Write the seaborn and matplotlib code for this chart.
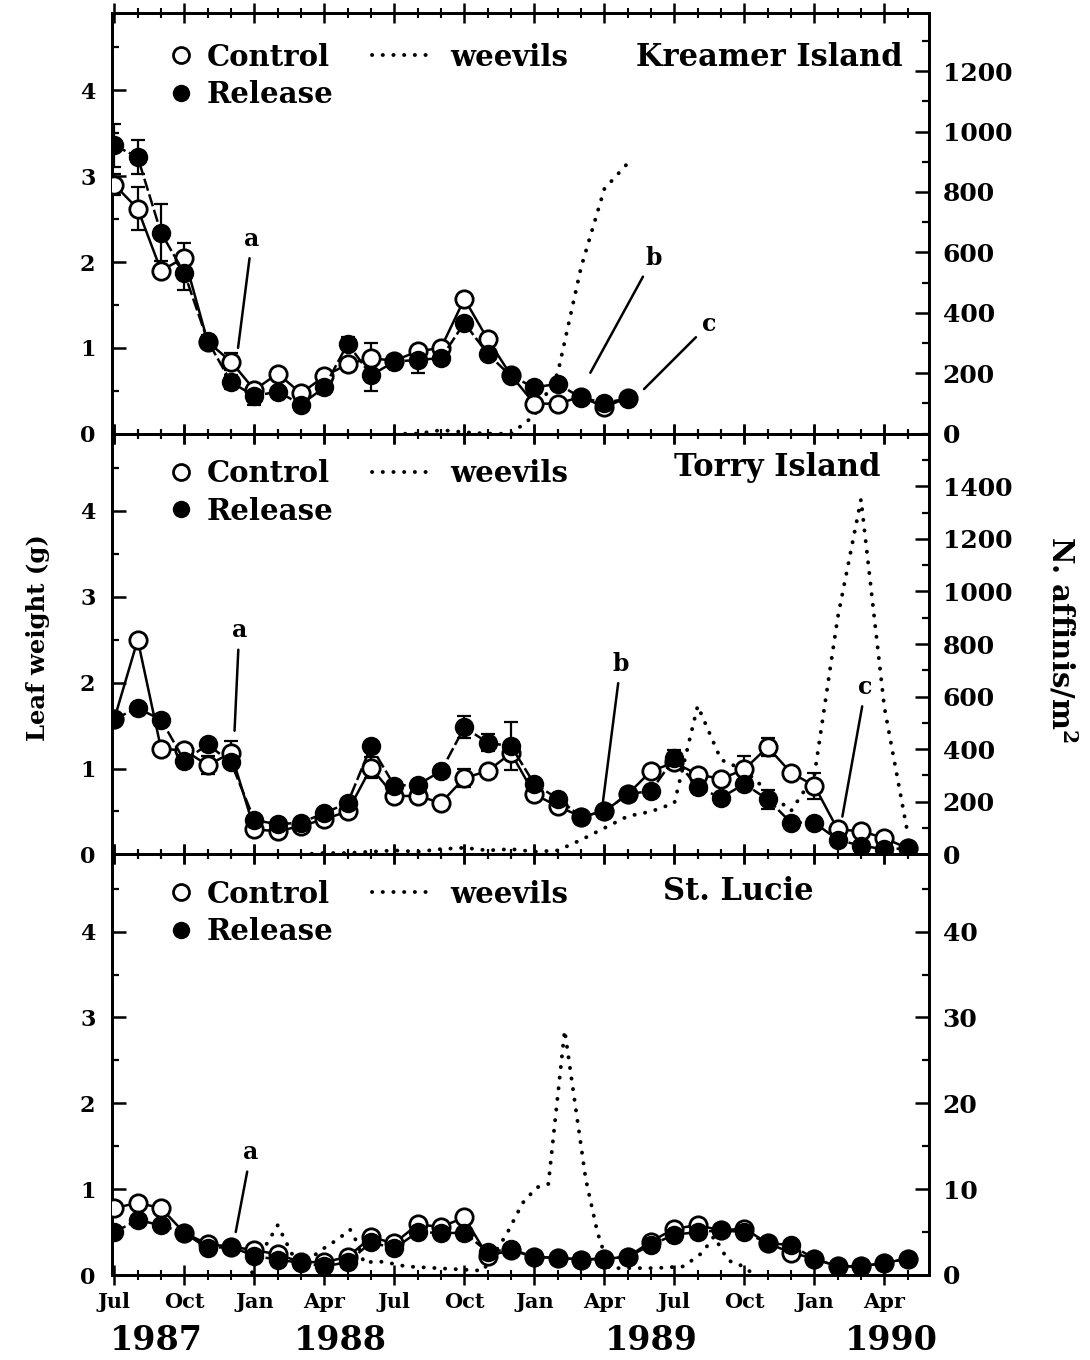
import numpy as np
import matplotlib
matplotlib.use("Agg")
import matplotlib.pyplot as plt
import matplotlib.transforms as mtransforms
from matplotlib.lines import Line2D
from matplotlib.ticker import MultipleLocator
import seaborn as sns

# ---------------- data (months since Jul 1987) ----------------
month_labels = ["Jul", "Oct", "Jan", "Apr"] * 3
year_labels = ["1987", "1988", "1989", "1990"]
year_pos = [1.8, 9.7, 23.0, 33.3]

# Kreamer Island
k_months = list(range(23))
k_ctrl = [2.90, 2.62, 1.90, 2.05, 1.07, 0.84, 0.51, 0.70, 0.47, 0.67, 0.81, 0.88,
          0.85, 0.96, 1.00, 1.57, 1.10, 0.68, 0.35, 0.35, 0.43, 0.31, 0.42]
k_rel = [3.36, 3.22, 2.34, 1.87, 1.08, 0.60, 0.44, 0.49, 0.34, 0.54, 1.05, 0.68,
         0.84, 0.86, 0.88, 1.29, 0.93, 0.67, 0.54, 0.58, 0.42, 0.36, 0.41]
k_ctrl_err = [0.12, 0.25, 0, 0.17, 0, 0.10, 0, 0, 0, 0, 0, 0.18,
              0, 0, 0, 0, 0, 0, 0, 0, 0, 0, 0]
k_rel_err = [0.25, 0.20, 0.33, 0.20, 0.07, 0.08, 0.10, 0, 0, 0.08, 0.08, 0.18,
             0, 0.15, 0, 0, 0, 0, 0, 0, 0, 0, 0]
k_weev_months = [12, 13, 14, 15, 16, 17, 18, 19, 20, 21, 22]
k_weev = [0, 0, 12, 5, 0, 0, 60, 200, 550, 810, 895]

# Torry Island
t_months = list(range(35))
t_ctrl = [1.58, 2.50, 1.23, 1.21, 1.04, 1.18, 0.29, 0.27, 0.33, 0.41, 0.50, 1.01,
          0.68, 0.68, 0.60, 0.89, 0.97, 1.18, 0.70, 0.56, 0.44, 0.50, 0.70, 0.97,
          1.07, 0.93, 0.88, 0.99, 1.25, 0.95, 0.80, 0.29, 0.27, 0.19, 0.07]
t_rel = [1.58, 1.70, 1.57, 1.09, 1.28, 1.07, 0.40, 0.35, 0.37, 0.48, 0.60, 1.26,
         0.80, 0.81, 0.97, 1.48, 1.30, 1.26, 0.82, 0.65, 0.44, 0.50, 0.70, 0.74,
         1.12, 0.78, 0.66, 0.82, 0.64, 0.37, 0.37, 0.17, 0.10, 0.06, 0.07]
t_ctrl_err = [0, 0, 0, 0, 0.10, 0.14, 0, 0, 0, 0, 0, 0.12,
              0, 0, 0, 0.10, 0, 0, 0, 0, 0, 0, 0, 0,
              0, 0, 0, 0.16, 0.11, 0, 0.15, 0, 0, 0, 0]
t_rel_err = [0, 0, 0, 0, 0, 0, 0, 0, 0, 0, 0, 0,
             0, 0, 0, 0.13, 0.10, 0.28, 0, 0, 0, 0, 0, 0,
             0.10, 0, 0, 0, 0.11, 0, 0, 0, 0, 0, 0]
t_weev_months = list(range(8, 35))
t_weev = [0, 5, 5, 10, 15, 10, 20, 25, 15, 20, 10, 15, 55, 100, 145, 163, 195,
          565, 360, 320, 240, 165, 300, 900, 1350, 560, 80]

# St. Lucie
s_months = list(range(35))
s_ctrl = [0.78, 0.84, 0.78, 0.49, 0.36, 0.33, 0.29, 0.24, 0.15, 0.15, 0.21, 0.44,
          0.37, 0.59, 0.56, 0.67, 0.22, 0.29, 0.21, 0.20, 0.18, 0.19, 0.21, 0.39,
          0.54, 0.58, 0.52, 0.54, 0.37, 0.26, 0.19, 0.10, 0.10, 0.14, 0.19]
s_rel = [0.50, 0.64, 0.58, 0.49, 0.31, 0.33, 0.22, 0.18, 0.14, 0.10, 0.15, 0.38,
         0.31, 0.50, 0.49, 0.49, 0.27, 0.30, 0.21, 0.20, 0.18, 0.19, 0.21, 0.35,
         0.47, 0.50, 0.52, 0.50, 0.37, 0.35, 0.19, 0.10, 0.10, 0.14, 0.19]
s_ctrl_err = [0] * 35
s_rel_err = [0] * 35
s_weev_months = [5.9, 6.5, 7.0, 7.6, 8.1, 8.8, 9.6, 10.1, 10.4, 10.7, 11.2, 11.6,
                 12.5, 15.8, 16.8, 17.5, 18.1, 18.6, 19.3, 20.2, 20.7, 21.2, 23.2,
                 24.4, 25.2, 25.7, 26.3, 26.8, 27.3]
s_weev = [0.3, 3.5, 5.8, 2.5, 1.2, 2.8, 4.2, 5.3, 3.8, 1.4, 1.6, 1.5,
          1.0, 0.5, 4.7, 8.4, 10.2, 10.6, 28.5, 11.2, 5.0, 0.8, 0.8,
          1.0, 2.6, 4.5, 1.7, 1.2, 0.3]

# ---------------- style ----------------
sns.set_style("white")
plt.rcParams["font.family"] = ["DejaVu Serif", "DejaVu Sans"]
plt.rcParams["font.weight"] = "bold"
plt.rcParams["mathtext.fontset"] = "dejavuserif"
plt.rcParams["mathtext.default"] = "bf"
plt.rcParams["axes.linewidth"] = 2.0
for key in ["text.color", "axes.labelcolor", "xtick.color", "ytick.color",
            "axes.edgecolor"]:
    plt.rcParams[key] = "black"

BLACK = "black"
LW = 1.8
MS = 12.5
DOTS = (0, (0.05, 2.7))
WLW = 2.8

fig, axes = plt.subplots(3, 1, figsize=(10.9, 13.6), dpi=100, sharex=True)
fig.subplots_adjust(left=0.1028, right=0.852, top=0.9904, bottom=0.0625, hspace=0)

panels = [
    dict(name="Kreamer Island", name_xy=(0.805, 0.895), leg_y=0.930,
         months=k_months, ctrl=k_ctrl, rel=k_rel,
         cerr=k_ctrl_err, rerr=k_rel_err, wm=k_weev_months, wv=k_weev,
         wlim=1392, wmaj=200, wmin=100, wtop=1200,
         ann=[("a", (5.3, 1.0), (5.9, 2.27)), ("b", (20.4, 0.71), (23.1, 2.05)),
              ("c", (22.7, 0.52), (25.5, 1.28))]),
    dict(name="Torry Island", name_xy=(0.814, 0.919), leg_y=0.940,
         months=t_months, ctrl=t_ctrl, rel=t_rel,
         cerr=t_ctrl_err, rerr=t_rel_err, wm=t_weev_months, wv=t_weev,
         wlim=1600, wmaj=200, wmin=100, wtop=1400,
         ann=[("a", (5.15, 1.44), (5.35, 2.61)), ("b", (20.9, 0.53), (21.7, 2.22)),
              ("c", (31.2, 0.44), (32.2, 1.95))]),
    dict(name="St. Lucie", name_xy=(0.767, 0.912), leg_y=0.940,
         months=s_months, ctrl=s_ctrl, rel=s_rel,
         cerr=s_ctrl_err, rerr=s_rel_err, wm=s_weev_months, wv=s_weev,
         wlim=49, wmaj=10, wmin=5, wtop=40,
         ann=[("a", (5.2, 0.5), (5.85, 1.43))]),
]

for i, (ax, p) in enumerate(zip(axes, panels)):
    ax2 = ax.twinx()
    # weevils (right axis)
    sns.lineplot(x=p["wm"], y=p["wv"], ax=ax2, color=BLACK, lw=WLW,
                 linestyle=DOTS, dash_capstyle="round", legend=False, sort=False)
    ax2.set_ylim(0, p["wlim"])
    ax2.yaxis.set_minor_locator(MultipleLocator(p["wmin"]))
    ax2.set_yticks([v for v in np.arange(0, p["wtop"] + 1, p["wmaj"])])
    ax2.tick_params(axis="y", which="major", direction="in", length=10, width=1.8,
                    labelsize=18, pad=10, colors=BLACK)
    ax2.tick_params(axis="y", which="minor", direction="in", length=5, width=1.6,
                    colors=BLACK)
    ax2.set_ylabel("")
    for s in ax2.spines.values():
        s.set_linewidth(2.0)
        s.set_color(BLACK)

    # leaf weight (left axis)
    m = np.array(p["months"], dtype=float)
    c = np.array(p["ctrl"])
    r = np.array(p["rel"])
    ce = np.array(p["cerr"], dtype=float)
    re_ = np.array(p["rerr"], dtype=float)
    mk = ce > 0
    if mk.any():
        ax.errorbar(m[mk], c[mk], yerr=ce[mk], fmt="none", ecolor=BLACK,
                    elinewidth=1.6, capsize=5, capthick=1.6, zorder=2)
    mk = re_ > 0
    if mk.any():
        ax.errorbar(m[mk], r[mk], yerr=re_[mk], fmt="none", ecolor=BLACK,
                    elinewidth=1.6, capsize=5, capthick=1.6, zorder=2)
    sns.lineplot(x=m, y=c, ax=ax, color=BLACK, lw=LW, marker="o", markersize=MS,
                 markerfacecolor="white", markeredgecolor=BLACK, markeredgewidth=2.0,
                 legend=False, sort=False, zorder=3)
    sns.lineplot(x=m, y=r, ax=ax, color=BLACK, lw=LW, linestyle=(0, (5, 1.5)),
                 marker="o", markersize=MS, markerfacecolor=BLACK,
                 markeredgecolor=BLACK, markeredgewidth=1.5,
                 legend=False, sort=False, zorder=4)

    ax.set_ylim(0, 4.9)
    ax.set_xlim(-0.1, 34.9)
    ax.yaxis.set_minor_locator(MultipleLocator(0.5))
    ax.set_yticks([0, 1, 2, 3, 4])
    ax.tick_params(axis="y", which="major", direction="in", length=10, width=1.8,
                   labelsize=16, pad=12, right=False)
    ax.tick_params(axis="y", which="minor", direction="in", length=5, width=1.6,
                   right=False)
    ax.xaxis.set_major_locator(MultipleLocator(3))
    ax.xaxis.set_minor_locator(MultipleLocator(1))
    ax.tick_params(axis="x", which="major", direction="inout", length=14, width=1.8,
                   top=True, bottom=True, labelsize=15, pad=5)
    ax.tick_params(axis="x", which="minor", direction="inout", length=7, width=1.5,
                   top=True, bottom=True)
    ax.set_ylabel("")
    ax.set_xlabel("")

    # put leaf-weight axis above weevil axis
    ax.set_zorder(ax2.get_zorder() + 1)
    ax.patch.set_visible(False)

    # legend
    h_c = Line2D([], [], linestyle="none", marker="o", markersize=MS - 1,
                 markerfacecolor="white", markeredgecolor=BLACK, markeredgewidth=2.0)
    h_r = Line2D([], [], linestyle="none", marker="o", markersize=MS - 1,
                 markerfacecolor=BLACK, markeredgecolor=BLACK)
    h_w = Line2D([], [], color=BLACK, lw=WLW, linestyle=DOTS, dash_capstyle="round")
    leg1 = ax.legend([h_c, h_r], ["Control", "Release"], loc="upper left",
                     bbox_to_anchor=(0.068, p["leg_y"]), frameon=False, fontsize=21,
                     handlelength=0.9, handletextpad=0.45, labelspacing=0.30,
                     borderaxespad=0, borderpad=0)
    ax.add_artist(leg1)
    ax.legend([h_w], ["weevils"], loc="upper left",
              bbox_to_anchor=(0.318, p["leg_y"]),
              frameon=False, fontsize=21, handlelength=2.1, handletextpad=0.6,
              borderaxespad=0, borderpad=0)
    ax.text(p["name_xy"][0], p["name_xy"][1], p["name"], transform=ax.transAxes,
            fontsize=22, fontweight="bold", ha="center", va="center")

    for lab, xy, xyt in p["ann"]:
        ax.annotate(lab, xy=xy, xytext=xyt, fontsize=17, fontweight="bold",
                    ha="center", va="center",
                    arrowprops=dict(arrowstyle="-", lw=1.8, color=BLACK,
                                    shrinkA=3, shrinkB=0))
    for s in ax.spines.values():
        s.set_linewidth(2.0)
        s.set_visible(True)
        s.set_color(BLACK)

    if i < 2:
        ax.tick_params(axis="x", labelbottom=False)

axb = axes[-1]
axb.set_xticks(np.arange(0, 34, 3))
axb.set_xticklabels(month_labels, fontsize=15, fontweight="bold")
trans = mtransforms.blended_transform_factory(axb.transData, axb.transAxes)
for yp, yl in zip(year_pos, year_labels):
    axb.text(yp, -0.155, yl, transform=trans, fontsize=24, ha="center", va="center",
             fontweight="bold")

fig.text(0.035, 0.531, "Leaf weight (g)", rotation=90, fontsize=17.5,
         fontweight="bold", ha="center", va="center")
fig.text(0.974, 0.53, "N. affinis/m$^2$", rotation=270, fontsize=21,
         fontweight="bold", ha="center", va="center")

fig.savefig("out.png", dpi=100)
